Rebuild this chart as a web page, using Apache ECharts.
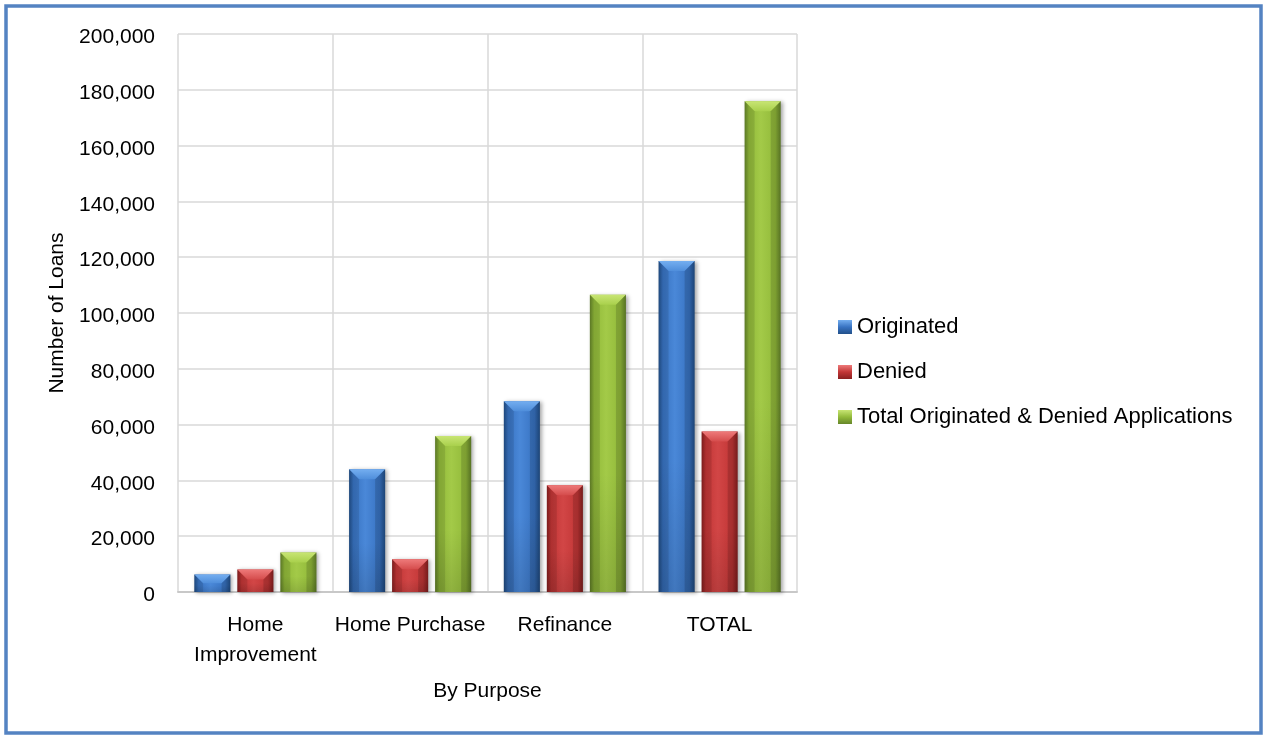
<!DOCTYPE html>
<html>
<head>
<meta charset="utf-8">
<script src="https://cdn.jsdelivr.net/npm/echarts@6/dist/echarts.min.js"></script>
<style>
html,body{margin:0;padding:0;background:#fff;}
#chart{width:1266px;height:736px;}
</style>
</head>
<body>
<div id="chart"></div>
<script>
const categories = ['Home Improvement', 'Home Purchase', 'Refinance', 'TOTAL'];
const originated = [6300, 44000, 68400, 118600];
const denied = [8100, 11700, 38300, 57500];
const totalApps = [14200, 55900, 106500, 175900];
const yTicks = { min: 0, max: 200000, interval: 20000 };
const seriesNames = ['Originated', 'Denied', 'Total Originated & Denied Applications'];

const palettes = [
  { dark: '#22508a', mid: '#3873c2', light: '#4a88d8', bevTop: '#74aef0', bevBot: '#4f8edb' },
  { dark: '#8a2020', mid: '#c23636', light: '#d24646', bevTop: '#ee7a7a', bevBot: '#d54c4c' },
  { dark: '#66862a', mid: '#92ba3a', light: '#a3ca48', bevTop: '#c8e574', bevBot: '#a9d04c' }
];

function hGrad(p) {
  return new echarts.graphic.LinearGradient(0, 0, 1, 0, [
    { offset: 0, color: p.dark },
    { offset: 0.12, color: p.mid },
    { offset: 0.45, color: p.light },
    { offset: 0.85, color: p.mid },
    { offset: 1, color: p.dark }
  ]);
}

function makeRender(idx) {
  const p = palettes[idx];
  return function (params, api) {
    const cat = api.value(0), val = api.value(1);
    const base = api.coord([cat, 0]);
    const top = api.coord([cat, val]);
    const band = api.size([1, 0])[0];
    const bw = band * 0.233;
    const gap = band * 0.045;
    const groupW = 3 * bw + 2 * gap;
    const x = base[0] - groupW / 2 + idx * (bw + gap);
    const y = top[1];
    const h = base[1] - top[1];
    const bev = Math.min(10, h / 2);
    return {
      type: 'group',
      children: [
        {
          type: 'rect',
          shape: { x: x, y: y, width: bw, height: h },
          style: {
            fill: hGrad(p),
            shadowColor: 'rgba(0,0,0,0.35)',
            shadowBlur: 4,
            shadowOffsetX: 2,
            shadowOffsetY: 1
          }
        },
        {
          type: 'rect',
          shape: { x: x, y: y + h * 0.6, width: bw, height: h * 0.4 },
          style: {
            fill: new echarts.graphic.LinearGradient(0, 0, 0, 1, [
              { offset: 0, color: 'rgba(0,0,0,0)' },
              { offset: 1, color: 'rgba(0,0,0,0.12)' }
            ])
          }
        },
        {
          type: 'polygon',
          shape: { points: [[x, y], [x + bw, y], [x + bw - bev, y + bev], [x + bev, y + bev]] },
          style: {
            fill: new echarts.graphic.LinearGradient(0, 0, 0, 1, [
              { offset: 0, color: p.bevTop },
              { offset: 1, color: p.bevBot }
            ])
          }
        },
        {
          type: 'polygon',
          shape: { points: [[x, y], [x + bev, y + bev], [x + bev, y + h], [x, y + h]] },
          style: { fill: 'rgba(0,0,0,0.10)' }
        },
        {
          type: 'polygon',
          shape: { points: [[x + bw, y], [x + bw - bev, y + bev], [x + bw - bev, y + h], [x + bw, y + h]] },
          style: { fill: 'rgba(0,0,0,0.14)' }
        }
      ]
    };
  };
}

const allValues = [originated, denied, totalApps];
const series = allValues.map(function (vals, i) {
  return {
    name: seriesNames[i],
    type: 'custom',
    renderItem: makeRender(i),
    encode: { x: 0, y: 1 },
    itemStyle: {
      color: new echarts.graphic.LinearGradient(0, 0, 0, 1, [
        { offset: 0, color: palettes[i].bevTop },
        { offset: 0.5, color: palettes[i].mid },
        { offset: 1, color: palettes[i].dark }
      ])
    },
    data: vals.map(function (v, j) { return [j, v]; })
  };
});

const FONT = 'Liberation Sans';
const chart = echarts.init(document.getElementById('chart'));
chart.setOption({
  animation: false,
  backgroundColor: '#ffffff',
  textStyle: { fontFamily: FONT },
  graphic: [{
    type: 'rect',
    shape: { x: 6, y: 6, width: 1255, height: 727 },
    style: { fill: 'none', stroke: '#5483c2', lineWidth: 3.5 },
    z: 100
  }],
  grid: { left: 178, right: 469, top: 34, bottom: 144 },
  legend: {
    orient: 'vertical',
    left: 833,
    top: 311,
    itemWidth: 14,
    itemHeight: 14,
    itemGap: 23,
    itemTextGap: 6,
    icon: 'rect',
    textStyle: { fontFamily: FONT, fontSize: 22, color: '#000' },
    data: seriesNames
  },
  xAxis: {
    type: 'category',
    data: categories,
    boundaryGap: true,
    name: 'By Purpose',
    nameLocation: 'middle',
    nameGap: 89,
    nameTextStyle: { fontFamily: FONT, fontSize: 21, color: '#000' },
    axisLine: { show: true, lineStyle: { color: '#c8c8c8', width: 2 } },
    axisTick: { show: false },
    splitLine: { show: true, lineStyle: { color: '#d9d9d9', width: 1.5 } },
    axisLabel: {
      margin: 18,
      fontFamily: FONT,
      fontSize: 21,
      color: '#000',
      lineHeight: 30,
      interval: 0,
      formatter: function (v) { return v === 'Home Improvement' ? 'Home\nImprovement' : v; }
    }
  },
  yAxis: {
    type: 'value',
    min: yTicks.min,
    max: yTicks.max,
    interval: yTicks.interval,
    name: 'Number of Loans',
    nameLocation: 'middle',
    nameGap: 110,
    nameRotate: 90,
    nameTextStyle: { fontFamily: FONT, fontSize: 21, color: '#000' },
    axisLine: { show: false },
    axisTick: { show: false },
    splitLine: { show: true, lineStyle: { color: '#d9d9d9', width: 1.5 } },
    axisLabel: {
      margin: 23,
      color: '#000',
      formatter: function (v) { return '{a|' + v.toLocaleString('en-US') + '}'; },
      rich: {
        a: { fontFamily: FONT, fontSize: 21, color: '#000', padding: [7, 0, 0, 0] }
      }
    }
  },
  series: series
});
</script>
</body>
</html>
